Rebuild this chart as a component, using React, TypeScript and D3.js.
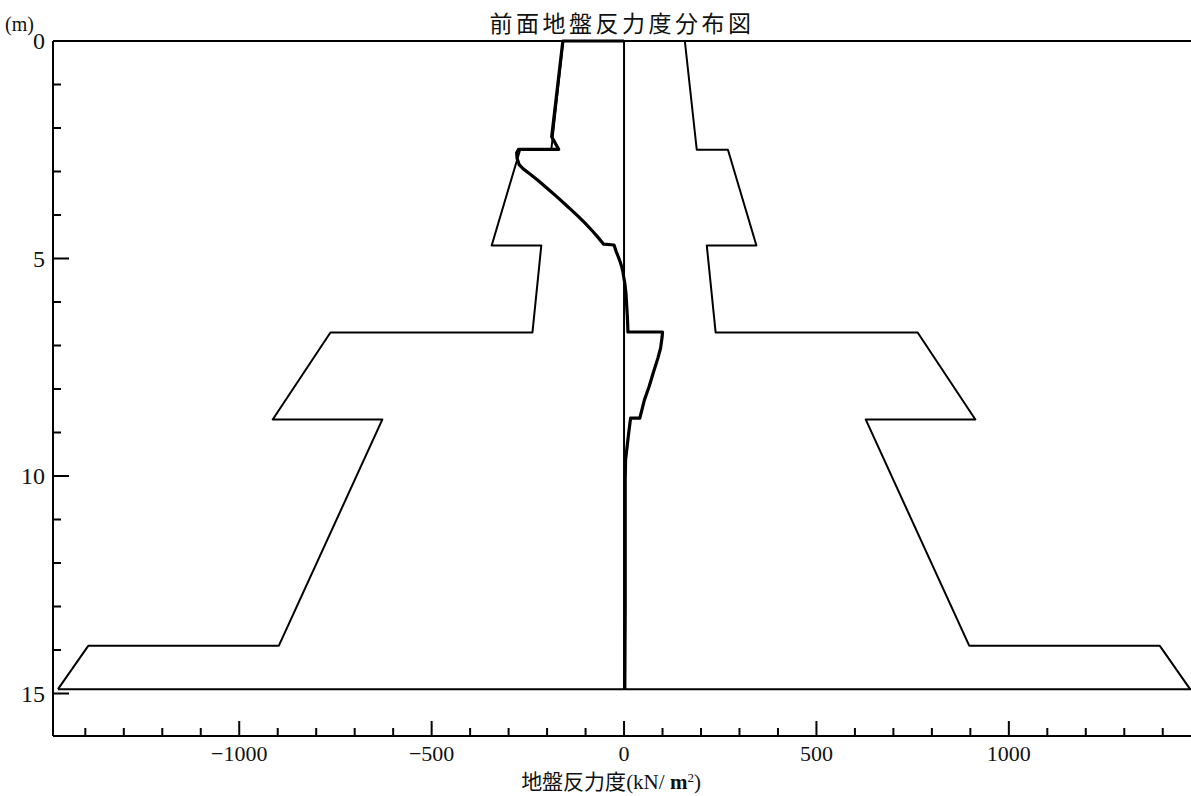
import React from "react";
import * as d3 from "d3";

const title = "前面地盤反力度分布図";
const xLabel = "地盤反力度";
const yUnit = "(m)";

// passive resistance envelope (symmetric), depth in m, value in kN/m2
const envDepths = [0, 2.5, 2.5, 4.7, 4.7, 6.7, 6.7, 8.7, 8.7, 13.9, 13.9, 14.9];
const envValues = [158, 189, 270, 344, 215, 238, 763, 913, 628, 897, 1392, 1471];

// ground reaction distribution
const curveDepths = [0, 0, 2.2, 2.49, 2.49, 2.57, 2.7, 2.85, 2.94, 3.04, 3.2, 3.43, 3.6, 3.77, 3.9, 4.05, 4.2, 4.38, 4.52, 4.67, 4.69, 4.85, 4.96, 5.08, 5.19, 5.3, 5.42, 5.57, 5.8, 6.1, 6.4, 6.64, 6.69, 6.69, 6.8, 7.06, 7.29, 7.6, 7.95, 8.25, 8.67, 8.67, 9.02, 9.4, 9.63, 10.1, 11, 13, 14.9];
const curveValues = [0, -159, -188, -170, -274, -279, -278, -272, -262, -247, -224, -194, -172, -151, -135, -117, -100, -81, -67, -53, -26, -20, -15, -10, -6, -3, -1, 2, 5, 7, 9, 10, 10, 100, 99, 95, 88, 77, 65, 53, 41, 17, 12, 7, 4, 3, 3, 3, 2];

const pileDepth = 14.9;
const xMajorTicks = [-1000, -500, 0, 500, 1000];
const xMinorTicks = d3.range(-1400, 1401, 100);
const yMajorTicks = [0, 5, 10, 15];
const yMinorTicks = d3.range(0, 16, 1);

export default function App() {
  const W = 1191, H = 796;
  const x = d3.scaleLinear().domain([-1484, 1476]).range([53, 1192]);
  const y = d3.scaleLinear().domain([0, 16]).range([41, 737]);
  const left = 53, right = 1191, top = 41, bottom = 736;

  const line = d3.line<[number, number]>().x(d => x(d[0])).y(d => y(d[1]));
  const envR: [number, number][] = envDepths.map((dp, i) => [envValues[i], dp]);
  const envL: [number, number][] = envDepths.map((dp, i) => [-envValues[i], dp]);
  const curve: [number, number][] = curveDepths.map((dp, i) => [curveValues[i], dp]);
  const serif = "'Liberation Serif', 'DejaVu Serif', serif";
  const cjk = "'Noto Sans CJK JP', 'Noto Sans', sans-serif";

  return (
    <div style={{ position: "absolute", left: 0, top: 0 }}>
      <svg width={W} height={H} style={{ display: "block", background: "#fff" }}>
        {/* title */}
        <text x={622} y={22} textAnchor="middle" dominantBaseline="central" fontFamily={cjk} fontSize={23} letterSpacing={3.5} fill="#111">{title}</text>
        {/* frame */}
        <line x1={left} x2={right} y1={top} y2={top} stroke="#000" strokeWidth={2} />
        <line x1={left} x2={left} y1={top} y2={bottom} stroke="#000" strokeWidth={2} />
        <line x1={left} x2={right} y1={bottom} y2={bottom} stroke="#000" strokeWidth={2} />
        {/* x ticks */}
        {xMinorTicks.map(t => (
          <line key={"xm" + t} x1={x(t)} x2={x(t)} y1={bottom} y2={bottom - (xMajorTicks.includes(t) ? 15 : 8)} stroke="#000" strokeWidth={2} />
        ))}
        {xMajorTicks.map(t => (
          <text key={"xl" + t} x={x(t)} y={761} textAnchor="middle" fontFamily={serif} fontSize={22} fill="#111">{t < 0 ? "\u2212" + Math.abs(t) : String(t)}</text>
        ))}
        {/* y ticks */}
        {yMinorTicks.map(t => (
          <line key={"ym" + t} x1={left} x2={left + (yMajorTicks.includes(t) ? 16 : 8)} y1={y(t)} y2={y(t)} stroke="#000" strokeWidth={2} />
        ))}
        {yMajorTicks.map(t => (
          <text key={"yl" + t} x={45} y={y(t)} textAnchor="end" dominantBaseline="central" fontFamily={serif} fontSize={24} fill="#111">{String(t)}</text>
        ))}
        <text x={5} y={24} dominantBaseline="central" fontFamily={serif} fontSize={20} fill="#111">{yUnit}</text>
        {/* x axis label */}
        <text x={611} y={789} textAnchor="middle" fontSize={21} fill="#111">
          <tspan fontFamily={cjk}>{xLabel}</tspan>
          <tspan fontFamily={serif}>(kN/</tspan>
          <tspan fontFamily={serif} fontWeight="bold"> m</tspan>
          <tspan fontFamily={serif} fontSize={13} dy={-7}>2</tspan>
          <tspan fontFamily={serif} dy={7}>)</tspan>
        </text>
        {/* pile axis and bottom line */}
        <line x1={x(0)} x2={x(0)} y1={y(0)} y2={y(pileDepth)} stroke="#000" strokeWidth={2} />
        <line x1={x(-envValues[envValues.length - 1])} x2={right} y1={y(pileDepth)} y2={y(pileDepth)} stroke="#000" strokeWidth={2} />
        {/* envelopes */}
        <path d={line(envL) || ""} fill="none" stroke="#000" strokeWidth={2} strokeLinejoin="round" />
        <path d={line(envR) || ""} fill="none" stroke="#000" strokeWidth={2} strokeLinejoin="round" />
        {/* reaction curve */}
        <path d={line(curve) || ""} fill="none" stroke="#000" strokeWidth={3.2} strokeLinejoin="round" />
      </svg>
    </div>
  );
}
